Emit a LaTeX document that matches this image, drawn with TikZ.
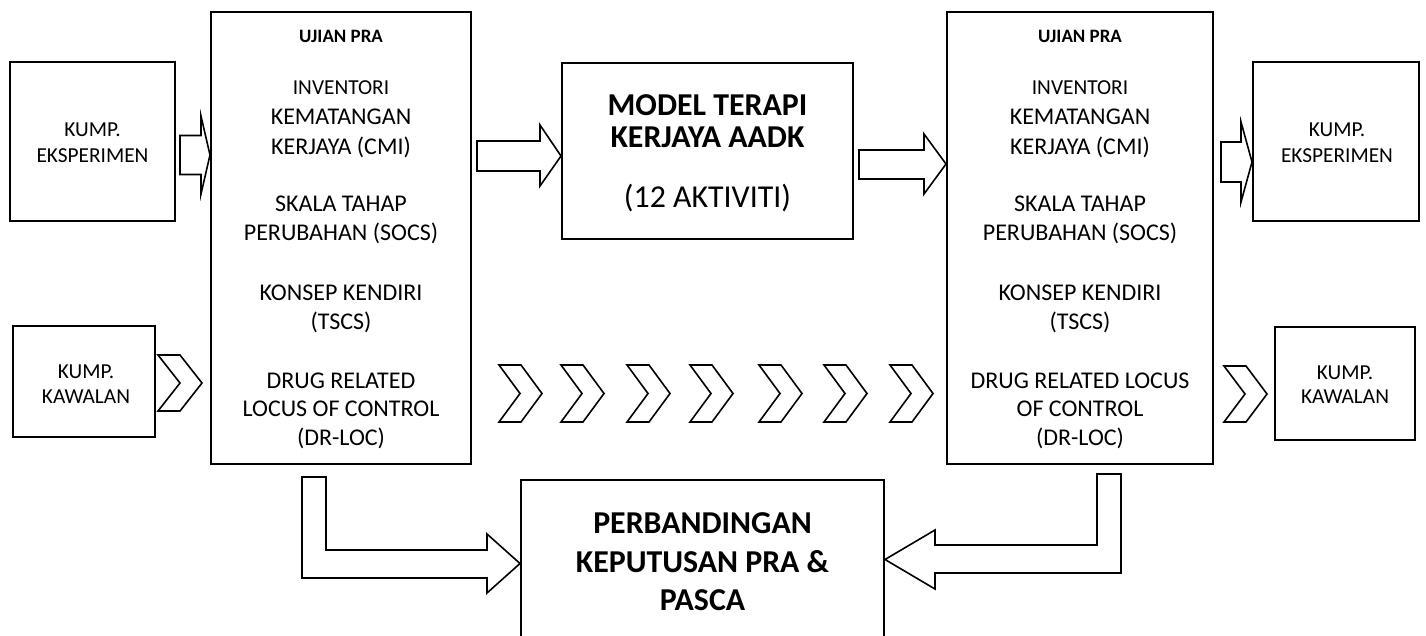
\documentclass[tikz,border=0pt]{standalone}
\usepackage{fontspec}
\setmainfont{Carlito}
\usetikzlibrary{fit}
\begin{document}
\begin{tikzpicture}[x=0.75pt,y=-0.75pt,
 frame/.style={draw=black, line width=1.5pt, inner sep=0pt},
 blk/.style={draw=black, line width=1.2pt, fill=white, line join=miter},
 ft/.style={anchor=base, inner sep=0pt, font=\fontsize{16}{19}\selectfont, yshift=-5.06pt},
 fm/.style={anchor=base, inner sep=0pt, font=\fontsize{18}{21}\selectfont, yshift=-5.7pt},
 fh/.style={anchor=base, inner sep=0pt, font=\bfseries\fontsize{14.2}{17}\selectfont, yshift=-4.5pt},
 fb/.style={anchor=base, inner sep=0pt, font=\bfseries\fontsize{23.9}{28}\selectfont, yshift=-7.55pt},
 fl/.style={anchor=base, inner sep=0pt, font=\fontsize{23.9}{28}\selectfont, yshift=-7.55pt},
]
\useasboundingbox (0,0) rectangle (1426,635);

% boxes
\node[frame, fit={(10,62) (175,221)}] (eksL) {};
\node[frame, fit={(211,12) (471,464)}] (ujiL) {};
\node[frame, fit={(562,63) (853,239)}] (model) {};
\node[frame, fit={(947,12) (1213,464)}] (ujiR) {};
\node[frame, fit={(1253,62) (1419,221)}] (eksR) {};
\node[frame, fit={(13,326) (155,437)}] (kawL) {};
\node[frame, fit={(1275,327) (1415,440)}] (kawR) {};
\node[frame, fit={(521,480) (884,700)}] (banding) {};

% block arrows (right)
\draw[blk] (180,135.5) -- (201,135.5) -- (201,116) -- (ujiL.west |- 0,155) -- (201,194) -- (201,174.5) -- (180,174.5) -- cycle;
\draw[blk] (477,141) -- (540,141) -- (540,125) -- (model.west |- 0,156) -- (540,186) -- (540,171) -- (477,171) -- cycle;
\draw[blk] (859,150) -- (924,150) -- (924,134) -- (ujiR.west |- 0,164) -- (924,194) -- (924,179) -- (859,179) -- cycle;
\draw[blk] (1221,142) -- (1241,142) -- (1241,122) -- (eksR.west |- 0,162) -- (1241,202) -- (1241,182) -- (1221,182) -- cycle;

% chevrons
\draw[blk] (158,355) -- (180,355) -- (202,383) -- (180,411) -- (158,411) -- (180,383) -- cycle;
\foreach \L in {499,561,627,690,759,824,890}{
  \draw[blk] (\L,365) -- (\L+22,365) -- (\L+43,393.5) -- (\L+22,422) -- (\L,422) -- (\L+21,393.5) -- cycle;
}
\draw[blk] (1224,366) -- (1246,366) -- (1267,394) -- (1246,422) -- (1224,422) -- (1245,394) -- cycle;

% L-shaped arrows
\draw[blk] (302,477) -- (326,477) -- (326,550) -- (487,550) -- (487,534) -- (banding.west |- 0,563.5) -- (487,593) -- (487,578) -- (302,578) -- cycle;
\draw[blk] (1121,474) -- (1097,474) -- (1097,545) -- (935,545) -- (935,530) -- (banding.east |- 0,559.5) -- (935,589) -- (935,573) -- (1121,573) -- cycle;

% texts: group boxes
\node[ft] (eL1) at (92.5,130) {KUMP.};
\node[ft] (eL2) at (92.5,156) {EKSPERIMEN};
\node[ft] (kL1) at (86,372) {KUMP.};
\node[ft] (kL2) at (86,397) {KAWALAN};
\node[ft] (eR1) at (1337,130) {KUMP.};
\node[ft] (eR2) at (1337,156) {EKSPERIMEN};
\node[ft] (kR1) at (1345,373) {KUMP.};
\node[ft] (kR2) at (1345,397) {KAWALAN};

% left test box
\node[fh] (uL0) at (341,37) {UJIAN PRA};
\node[ft] (uL1) at (341,88) {INVENTORI};
\node[fm] (uL2) at (341,117) {KEMATANGAN};
\node[fm] (uL3) at (341,147) {KERJAYA (CMI)};
\node[fm] (uL4) at (341,204) {SKALA TAHAP};
\node[fm] (uL5) at (341,233) {PERUBAHAN (SOCS)};
\node[fm] (uL6) at (341,293) {KONSEP KENDIRI};
\node[fm] (uL7) at (341,322) {(TSCS)};
\node[fm] (uL8) at (341,381) {DRUG RELATED};
\node[fm] (uL9) at (341,409) {LOCUS OF CONTROL};
\node[fm] (uL10) at (341,438) {(DR-LOC)};

% right test box
\node[fh] (uR0) at (1080,37) {UJIAN PRA};
\node[ft] (uR1) at (1080,88) {INVENTORI};
\node[fm] (uR2) at (1080,117) {KEMATANGAN};
\node[fm] (uR3) at (1080,147) {KERJAYA (CMI)};
\node[fm] (uR4) at (1080,204) {SKALA TAHAP};
\node[fm] (uR5) at (1080,233) {PERUBAHAN (SOCS)};
\node[fm] (uR6) at (1080,293) {KONSEP KENDIRI};
\node[fm] (uR7) at (1080,322) {(TSCS)};
\node[fm] (uR8) at (1080,381) {DRUG RELATED LOCUS};
\node[fm] (uR9) at (1080,409) {OF CONTROL};
\node[fm] (uR10) at (1080,438) {(DR-LOC)};

% model box
\node[fb] (m1) at (707.5,105) {MODEL TERAPI};
\node[fb] (m2) at (707.5,137) {KERJAYA AADK};
\node[fl] (m3) at (707.5,197) {(12 AKTIVITI)};

% comparison box
\node[fb] (b1) at (702.5,523) {PERBANDINGAN};
\node[fb] (b2) at (702.5,562) {KEPUTUSAN PRA \&};
\node[fb] (b3) at (702.5,600) {PASCA};
\end{tikzpicture}
\end{document}
